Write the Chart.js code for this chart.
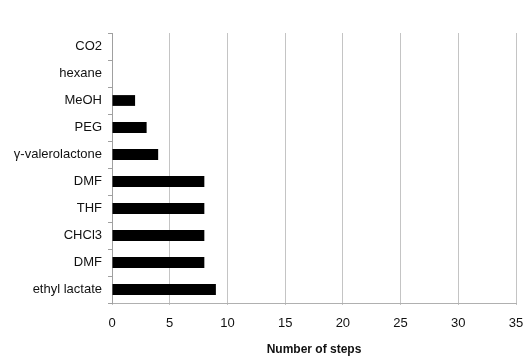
<!DOCTYPE html>
<html>
<head>
<meta charset="utf-8">
<script src="https://cdn.jsdelivr.net/npm/chart.js@4"></script>
<style>
  html, body { margin: 0; padding: 0; background: #fff; }
  #wrap { width: 529px; height: 361px; }
</style>
</head>
<body>
<div id="wrap"><canvas id="barChart" width="529" height="361"></canvas></div>
<script>
// ======================= DATA =======================
const solvents = [
  "CO2",
  "hexane",
  "MeOH",
  "PEG",
  "γ-valerolactone",
  "DMF",
  "THF",
  "CHCl3",
  "DMF",
  "ethyl lactate",
];
const steps = [0, 0, 2, 3, 4, 8, 8, 8, 8, 9];
const xTicks = [0, 5, 10, 15, 20, 25, 30, 35];

const font = "'Liberation Sans', Arial, Helvetica, sans-serif";

// ======================= BAR CHART (Number of steps) =======================
new Chart(document.getElementById("barChart"), {
  type: "bar",
  data: {
    labels: solvents,
    datasets: [
      {
        data: steps,
        backgroundColor: "#000",
        barPercentage: 0.4,
        categoryPercentage: 1,
      },
    ],
  },
  options: {
    indexAxis: "y",
    responsive: false,
    animation: false,
    layout: {
      padding: { left: 0, right: 13, top: 33, bottom: 0 },
    },
    scales: {
      x: {
        min: 0,
        max: xTicks[xTicks.length - 1],
        afterBuildTicks: (scale) => {
          scale.ticks = xTicks.map((v) => ({ value: v }));
        },
        afterFit: (scale) => {
          scale.height = 58;
          scale.paddingLeft = 0;
          scale.paddingRight = 0;
        },
        grid: { color: "#c4c4c4", lineWidth: 1, tickLength: 2 },
        border: { color: "#b0b0b0" },
        ticks: { color: "#111", font: { family: font, size: 13 }, padding: 11 },
        title: {
          display: true,
          text: "Number of steps",
          color: "#111",
          font: { family: font, size: 12, weight: "bold" },
          padding: { top: 4, bottom: 4 },
        },
      },
      y: {
        afterFit: (scale) => {
          scale.width = 112;
        },
        grid: {
          offset: true,
          drawOnChartArea: false,
          color: "#a0a0a0",
          tickLength: 4,
        },
        border: { color: "#a0a0a0" },
        ticks: { color: "#111", font: { family: font, size: 13 }, padding: 6 },
      },
    },
    plugins: {
      legend: { display: false },
      tooltip: { enabled: false },
    },
  },
});
</script>
</body>
</html>
